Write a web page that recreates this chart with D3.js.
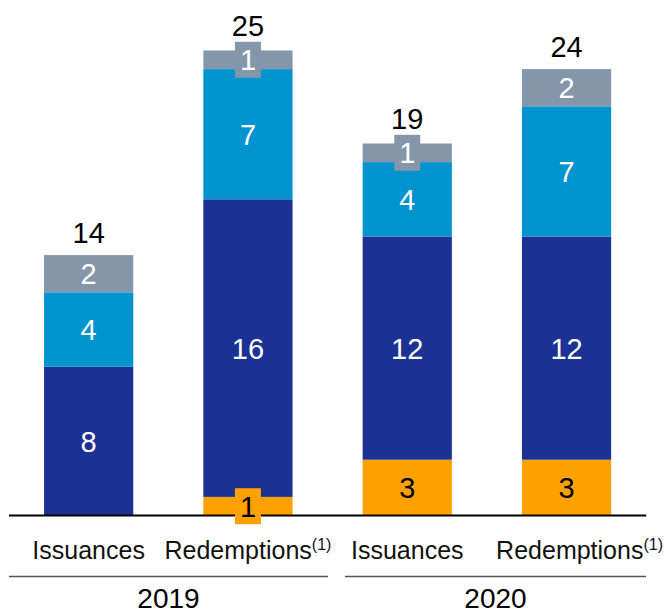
<!DOCTYPE html>
<html>
<head>
<meta charset="utf-8">
<script src="https://cdn.jsdelivr.net/npm/d3@7/dist/d3.min.js"></script>
<style>
  html, body { margin: 0; padding: 0; background: #fff; }
  svg { display: block; font-family: "Liberation Sans", Arial, sans-serif; }
</style>
</head>
<body>
<svg id="chart" width="670" height="614"></svg>
<script>
// ---- Data ----
const categories = ["Issuances", "Redemptions", "Issuances", "Redemptions"];
const footnotes = ["", "(1)", "", "(1)"];
const years = ["2019", "2020"];
const yearOf = ["2019", "2019", "2020", "2020"];
const seriesNames = ["orange", "darkBlue", "lightBlue", "grey"];
const orangeValues = [0, 1, 3, 3];
const darkBlueValues = [8, 16, 12, 12];
const lightBlueValues = [4, 7, 4, 7];
const greyValues = [2, 1, 1, 2];
const totalLabels = ["14", "25", "19", "24"];
const colors = ["#FFA100", "#1B3294", "#0093D0", "#8496AA"];
const labelColors = ["#000", "#fff", "#fff", "#fff"];

// ---- Layout ----
const svg = d3.select("#chart");
const baseY = 515.5;
const pxPerUnit = 18.6;
const yMax = 26;

const x = d3.scaleBand()
  .domain(d3.range(categories.length))
  .range([9, 646.2])
  .paddingInner(0.44)
  .paddingOuter(0.22);

const y = d3.scaleLinear()
  .domain([0, yMax])
  .range([baseY, baseY - yMax * pxPerUnit]);

const table = categories.map((c, i) => ({
  idx: i,
  orange: orangeValues[i],
  darkBlue: darkBlueValues[i],
  lightBlue: lightBlueValues[i],
  grey: greyValues[i]
}));

const stack = d3.stack().keys(seriesNames);
const stacked = stack(table);

const fontSize = 29;

// bars
const layers = svg.append("g").selectAll("g")
  .data(stacked)
  .join("g")
  .attr("fill", (d, i) => colors[i]);

layers.selectAll("rect")
  .data(d => d.filter(s => s[1] - s[0] > 0))
  .join("rect")
  .attr("x", d => x(d.data.idx))
  .attr("width", x.bandwidth())
  .attr("y", d => y(d[1]))
  .attr("height", d => y(d[0]) - y(d[1]));

// baseline
svg.append("line")
  .attr("x1", x.range()[0]).attr("x2", x.range()[1])
  .attr("y1", baseY).attr("y2", baseY)
  .attr("stroke", "#000").attr("stroke-width", 2);

// segment labels (with small boxes for thin segments)
const boxW = 26, boxH = 36;
stacked.forEach((layer, si) => {
  const g = svg.append("g");
  layer.forEach(seg => {
    const v = seg[1] - seg[0];
    if (v <= 0) return;
    const cx = x(seg.data.idx) + x.bandwidth() / 2;
    const cy = (y(seg[0]) + y(seg[1])) / 2;
    if (v <= 1) {
      g.append("rect")
        .attr("x", cx - boxW / 2).attr("y", cy - boxH / 2)
        .attr("width", boxW).attr("height", boxH)
        .attr("fill", colors[si]);
    }
    g.append("text")
      .attr("x", cx).attr("y", cy + fontSize * 0.36)
      .attr("text-anchor", "middle")
      .attr("font-size", fontSize)
      .attr("fill", labelColors[si])
      .text(d3.format("d")(v));
  });
});

// totals
table.forEach((d, i) => {
  const top = d3.sum(seriesNames, k => d[k]);
  const topHasBox = d.grey <= 1;
  svg.append("text")
    .attr("x", x(i) + x.bandwidth() / 2)
    .attr("y", y(top) - (topHasBox ? 15 : 12))
    .attr("text-anchor", "middle")
    .attr("font-size", fontSize)
    .attr("fill", "#000")
    .text(totalLabels[i]);
});

// category labels
const catShift = [0, 0, 0, 13];
categories.forEach((c, i) => {
  const t = svg.append("text")
    .attr("x", x(i) + x.bandwidth() / 2 + catShift[i])
    .attr("y", 559)
    .attr("text-anchor", "middle")
    .attr("font-size", 25)
    .attr("fill", "#111");
  t.append("tspan").text(c);
  if (footnotes[i]) {
    t.append("tspan").attr("font-size", 16).attr("dy", -9).text(footnotes[i]);
  }
});

// year group lines and labels
const groupSpans = { "2019": [9, 328], "2020": [345, 646] };
years.forEach(yr => {
  const [a, b] = groupSpans[yr];
  svg.append("line")
    .attr("x1", a).attr("x2", b)
    .attr("y1", 576.5).attr("y2", 576.5)
    .attr("stroke", "#555").attr("stroke-width", 1.3);
  svg.append("text")
    .attr("x", (a + b) / 2).attr("y", 607.5)
    .attr("text-anchor", "middle")
    .attr("font-size", 28)
    .attr("fill", "#000")
    .text(yr);
});
</script>
</body>
</html>
